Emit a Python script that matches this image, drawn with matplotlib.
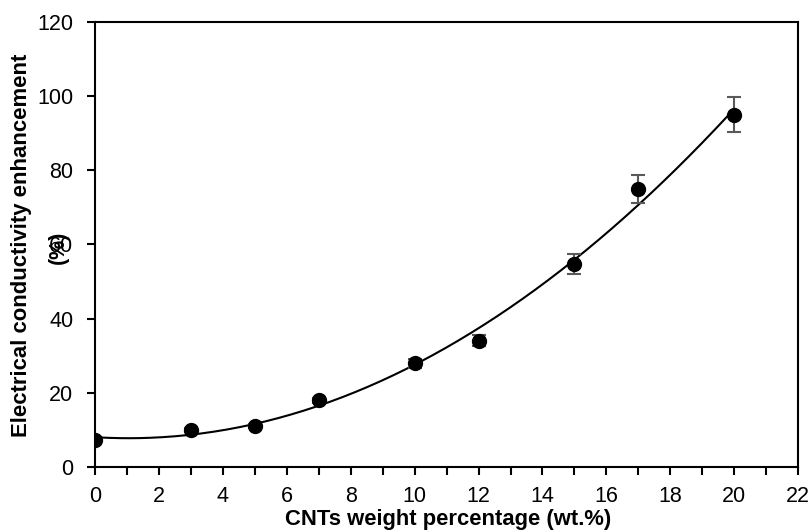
import numpy as np
import matplotlib
matplotlib.use("Agg")
import matplotlib.pyplot as plt
from matplotlib.ticker import MultipleLocator

plt.rcParams['font.family'] = ['Liberation Sans Narrow', 'Liberation Sans', 'DejaVu Sans']

# data
cnt_wt = np.array([0, 3, 5, 7, 10, 12, 15, 17, 20])
enhancement = np.array([7.3, 10.0, 11.0, 18.0, 28.0, 34.0, 54.8, 75.0, 95.0])
err = np.array([0.5, 0.5, 0.5, 0.6, 1.2, 1.5, 2.7, 3.7, 4.7])

# 2nd order trend line like the Excel one
coef = np.polyfit(cnt_wt, enhancement, 2)
xs = np.linspace(0, 20, 200)
ys = np.polyval(coef, xs)

fig = plt.figure(figsize=(8.12, 5.32), dpi=100)
ax = fig.add_axes([0.117, 0.122, 0.866, 0.837])

ax.plot(xs, ys, color='black', lw=1.5, zorder=2)
ax.errorbar(cnt_wt, enhancement, yerr=err, fmt='o', color='black', ms=10,
            ecolor='#595959', elinewidth=1.5, capsize=5, capthick=1.5, zorder=3)

ax.set_xlim(0, 22)
ax.set_ylim(0, 120)
ax.xaxis.set_major_locator(MultipleLocator(2))
ax.xaxis.set_minor_locator(MultipleLocator(1))
ax.yaxis.set_major_locator(MultipleLocator(20))
for s in ax.spines.values():
    s.set_linewidth(1.5)
ax.tick_params(which='both', direction='out', width=1.5, length=5.5,
               labelsize=15.5, color='black')
ax.tick_params(axis='x', pad=8)
ax.tick_params(axis='y', pad=10)

fig.text(0.552, 0.013, 'CNTs weight percentage (wt.%)', ha='center', va='baseline',
         fontsize=15.8, fontweight='bold')
fig.text(0.027, 0.539, 'Electrical conductivity enhancement', rotation=90,
         ha='center', va='center', fontsize=15.9, fontweight='bold')
fig.text(0.072, 0.535, '(%)', rotation=90, ha='center', va='center',
         fontsize=15.5, fontweight='bold')

fig.savefig('out.png', dpi=100)
